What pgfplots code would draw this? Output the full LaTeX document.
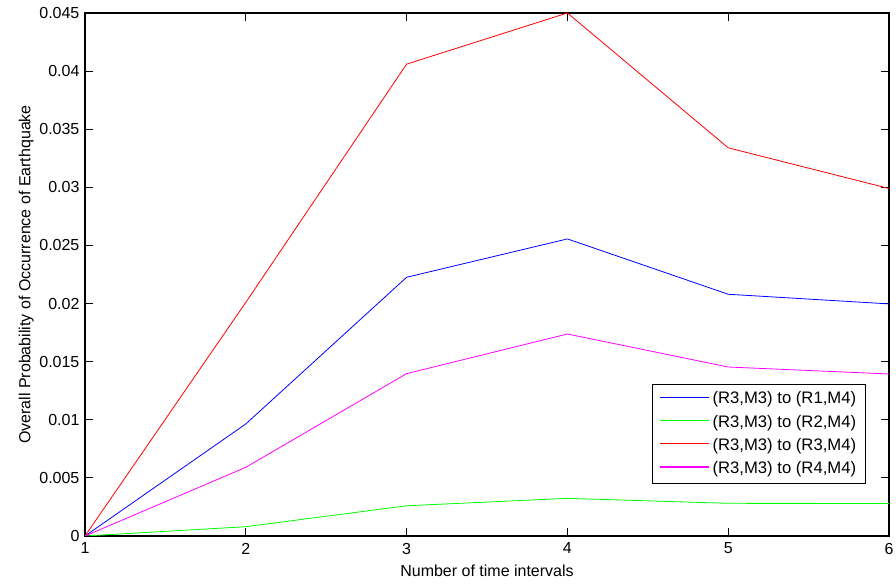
\documentclass[border=0pt]{standalone}
\usepackage{fontspec}
\setmainfont{Liberation Sans}
\usepackage{pgfplots}
\pgfplotsset{compat=1.18}
\definecolor{mgreen}{rgb}{0,1,0}
\definecolor{mmag}{rgb}{1,0,1}
\begin{document}
\fontsize{12pt}{14pt}\selectfont
\begin{tikzpicture}
\useasboundingbox (-63.75pt,-36pt) rectangle (608.25pt,402pt);
\begin{axis}[
  at={(0,0)}, anchor=south west,
  scale only axis,
  width=603pt, height=392.25pt,
  xmin=1, xmax=6, ymin=0, ymax=0.045,
  xtick={1,2,3,4,5,6},
  ytick={0,0.005,0.01,0.015,0.02,0.025,0.03,0.035,0.04,0.045},
  scaled y ticks=false,
  yticklabel style={/pgf/number format/fixed,/pgf/number format/precision=3},
  /pgf/number format/assume math mode=true,
  tick align=inside,
  major tick length=6pt,
  tick style={black, line width=0.6pt},
  axis line style={black, line width=0.8pt},
  ticklabel style={font=\fontsize{12pt}{14pt}\selectfont},
  xticklabel style={yshift=-1pt},
  xlabel={Number of time intervals},
  ylabel={Overall Probability of Occurrence of Earthquake},
  label style={font=\fontsize{12pt}{14pt}\selectfont},
  xlabel style={yshift=0pt},
  ylabel style={yshift=-4pt},
  legend style={at={(0.9714,0.0994)}, anchor=south east, line width=0.8pt,
    font=\fontsize{12.5pt}{14pt}\selectfont, row sep=2.6pt, inner xsep=5pt, inner ysep=3.5pt},
  legend cell align=left,
  legend image code/.code={\draw[#1, line width=0.8pt] plot coordinates {(0cm,0.05cm) (1.3cm,0.05cm)};},
]
\addplot[draw=blue, line width=0.6pt] coordinates {(1,0) (2,0.00964) (3,0.02226) (4,0.02556) (5,0.0208) (6,0.01997)};
\addplot[draw=mgreen, line width=0.6pt] coordinates {(1,0) (2,0.0008) (3,0.0026) (4,0.00324) (5,0.00281) (6,0.0028)};
\addplot[draw=red, line width=0.6pt] coordinates {(1,0) (2,0.0201) (3,0.0406) (4,0.045) (5,0.0334) (6,0.0299)};
\addplot[draw=mmag, line width=0.6pt] coordinates {(1,0) (2,0.00591) (3,0.01397) (4,0.01738) (5,0.01454) (6,0.01394)};
\legend{(R3{,}M3) to (R1{,}M4),(R3{,}M3) to (R2{,}M4),(R3{,}M3) to (R3{,}M4),(R3{,}M3) to (R4{,}M4)}
\end{axis}
\end{tikzpicture}
\end{document}
